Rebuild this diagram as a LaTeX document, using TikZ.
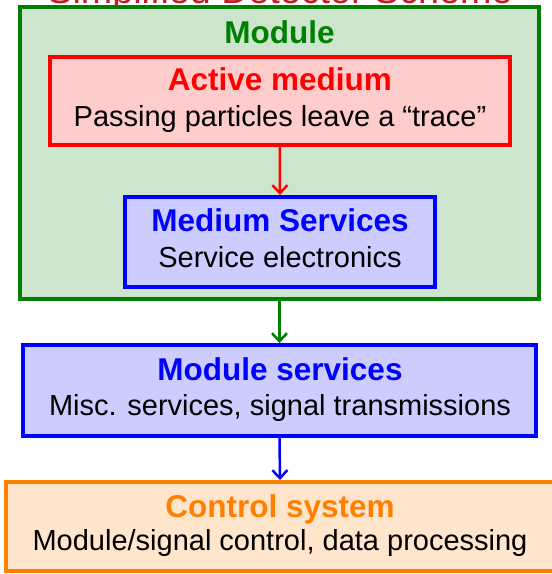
\documentclass[tikz,border=0pt]{standalone}
\usepackage{fontspec}
\setmainfont{Liberation Sans}
\usetikzlibrary{arrows.meta}

\definecolor{modgreen}{RGB}{0,128,0}
\definecolor{modfill}{RGB}{204,229,204}
\definecolor{actred}{RGB}{255,0,0}
\definecolor{actfill}{RGB}{255,204,204}
\definecolor{srvblue}{RGB}{0,0,255}
\definecolor{srvfill}{RGB}{204,204,255}
\definecolor{ctlorange}{RGB}{255,128,0}
\definecolor{ctlfill}{RGB}{255,229,204}
\definecolor{headred}{RGB}{192,30,36}

\tikzset{
  box/.style={draw, line width=4pt, inner sep=0pt},
  headline/.style={inner sep=0pt, anchor=base, text=headred,
    font=\fontsize{37.7}{40}\selectfont},
  boxtitle/.style={inner sep=0pt, anchor=base,
    font=\fontsize{31.5}{36}\selectfont\bfseries},
  boxtext/.style={inner sep=0pt, anchor=base, text=black,
    font=\fontsize{29}{35}\selectfont},
  flow/.style={line width=2.5pt, -{Straight Barb[length=8pt,width=15pt]}}
}

\begin{document}
\begin{tikzpicture}[x=1pt,y=-1pt]
  \useasboundingbox (0,0) rectangle (552,574);
  \clip (0,0) rectangle (552,574);

  % heading, partly hidden behind the module frame
  \node[headline] (scheme) at (280,3.5) {Simplified Detector Scheme};

  % module frame and its contents
  \node[box, draw=modgreen, fill=modfill, minimum width=519pt, minimum height=292pt]
    (module) at (279.5,153) {};
  \node[boxtitle, text=modgreen] (moduletitle) at (279.5,43) {Module};

  \node[box, draw=actred, fill=actfill, minimum width=460.5pt, minimum height=88pt]
    (active) at (279.75,101) {};
  \node[boxtitle, text=actred] (activetitle) at (280,90) {Active medium};
  \node[boxtext] (activetext) at (280,126) {Passing particles leave a “trace”};

  \node[box, draw=srvblue, fill=srvfill, minimum width=310pt, minimum height=90pt]
    (medsrv) at (280,242) {};
  \node[boxtitle, text=srvblue] (medsrvtitle) at (280,231.7) {Medium Services};
  \node[boxtext] (medsrvtext) at (280,267.3) {Service electronics};

  % outside the module
  \node[box, draw=srvblue, fill=srvfill, minimum width=513pt, minimum height=91pt]
    (modsrv) at (279.5,390.5) {};
  \node[boxtitle, text=srvblue] (modsrvtitle) at (280,380) {Module services};
  \node[boxtext] (modsrvtext) at (280,415.5) {Misc. services, signal transmissions};

  \node[box, draw=ctlorange, fill=ctlfill, minimum width=548pt, minimum height=89pt]
    (control) at (280,526.5) {};
  \node[boxtitle, text=ctlorange] (controltitle) at (280,517.3) {Control system};
  \node[boxtext] (controltext) at (280,550.7) {Module/signal control, data processing};

  % connectors
  \draw[flow, actred] (active.south) -- (medsrv.north);
  \draw[flow, modgreen] (module.south) -- (modsrv.north);
  \draw[flow, srvblue] (modsrv.south) -- (control.north);
\end{tikzpicture}
\end{document}
